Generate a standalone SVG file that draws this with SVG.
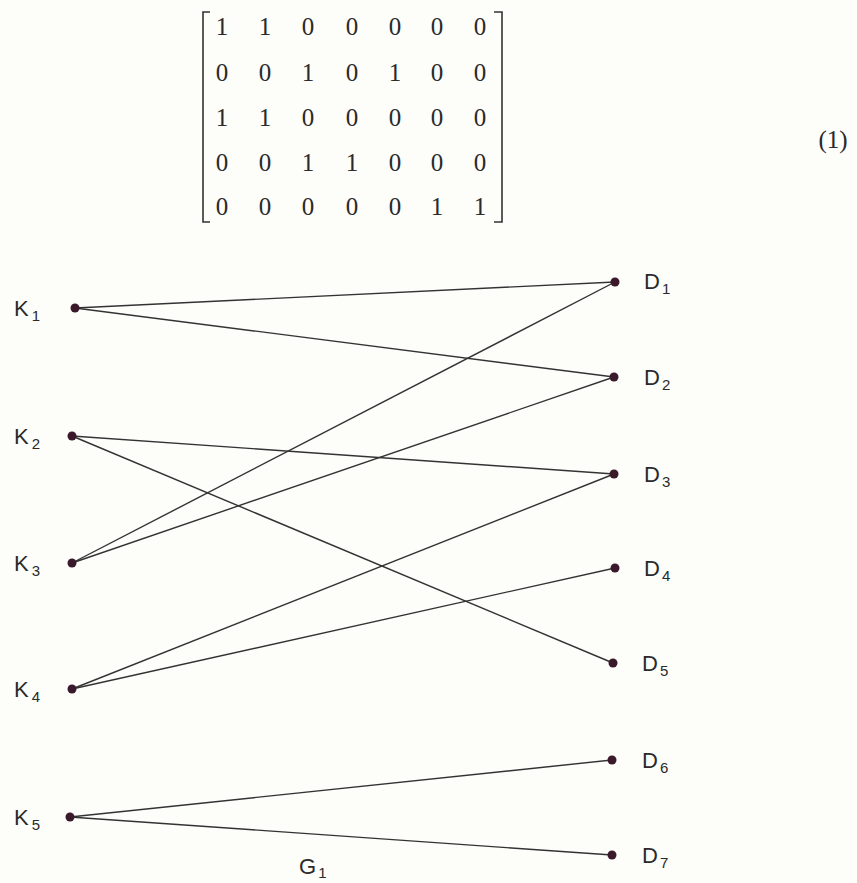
<svg xmlns="http://www.w3.org/2000/svg" width="857" height="883" viewBox="0 0 857 883">
<style>
.m{font-family:"Liberation Serif",serif;font-size:25px;fill:#2a2a2a;text-anchor:middle}
.lb{font-family:"Liberation Sans",Arial,sans-serif;font-size:22px;fill:#2a2a2a}
.sb{font-size:15px}
.e{stroke:#333;stroke-width:1.4;fill:none}
.br{stroke:#333;stroke-width:1.6;fill:none}
.dot{fill:#3a1a2a}
</style>
<rect width="857" height="883" fill="#fdfdfa"/>
<g id="matrix">
<path class="br" d="M210 12 H203 V222 H210"/>
<path class="br" d="M494 12 H502 V222 H494"/>
<g class="m">
<text x="222" y="35">1</text><text x="265" y="35">1</text><text x="308" y="35">0</text><text x="352" y="35">0</text><text x="395" y="35">0</text><text x="437" y="35">0</text><text x="480" y="35">0</text>
<text x="222" y="81">0</text><text x="265" y="81">0</text><text x="308" y="81">1</text><text x="352" y="81">0</text><text x="395" y="81">1</text><text x="437" y="81">0</text><text x="480" y="81">0</text>
<text x="222" y="126">1</text><text x="265" y="126">1</text><text x="308" y="126">0</text><text x="352" y="126">0</text><text x="395" y="126">0</text><text x="437" y="126">0</text><text x="480" y="126">0</text>
<text x="222" y="171">0</text><text x="265" y="171">0</text><text x="308" y="171">1</text><text x="352" y="171">1</text><text x="395" y="171">0</text><text x="437" y="171">0</text><text x="480" y="171">0</text>
<text x="222" y="215">0</text><text x="265" y="215">0</text><text x="308" y="215">0</text><text x="352" y="215">0</text><text x="395" y="215">0</text><text x="437" y="215">1</text><text x="480" y="215">1</text>
</g>
<text class="m" x="833" y="148">(1)</text>
</g>
<g id="edges">
<line class="e" x1="75" y1="308" x2="615" y2="282"/>
<line class="e" x1="75" y1="308" x2="614" y2="377"/>
<line class="e" x1="72" y1="436" x2="614" y2="474"/>
<line class="e" x1="72" y1="436" x2="613" y2="663"/>
<line class="e" x1="72" y1="563" x2="615" y2="282"/>
<line class="e" x1="72" y1="563" x2="614" y2="377"/>
<line class="e" x1="72" y1="689" x2="614" y2="474"/>
<line class="e" x1="72" y1="689" x2="615" y2="568"/>
<line class="e" x1="70" y1="817" x2="612" y2="760"/>
<line class="e" x1="70" y1="817" x2="612" y2="855"/>
</g>
<g id="K1"><circle class="dot" cx="75" cy="308" r="4.5"/><text class="lb" x="14" y="316">K<tspan class="sb" dx="3" dy="5">1</tspan></text></g>
<g id="K2"><circle class="dot" cx="72" cy="436" r="4.5"/><text class="lb" x="14" y="444">K<tspan class="sb" dx="3" dy="5">2</tspan></text></g>
<g id="K3"><circle class="dot" cx="72" cy="563" r="4.5"/><text class="lb" x="14" y="571">K<tspan class="sb" dx="3" dy="5">3</tspan></text></g>
<g id="K4"><circle class="dot" cx="72" cy="689" r="4.5"/><text class="lb" x="14" y="697">K<tspan class="sb" dx="3" dy="5">4</tspan></text></g>
<g id="K5"><circle class="dot" cx="70" cy="817" r="4.5"/><text class="lb" x="14" y="825">K<tspan class="sb" dx="3" dy="5">5</tspan></text></g>
<g id="D1"><circle class="dot" cx="615" cy="282" r="4.5"/><text class="lb" x="644" y="289">D<tspan class="sb" dx="2" dy="5">1</tspan></text></g>
<g id="D2"><circle class="dot" cx="614" cy="377" r="4.5"/><text class="lb" x="644" y="385">D<tspan class="sb" dx="2" dy="5">2</tspan></text></g>
<g id="D3"><circle class="dot" cx="614" cy="474" r="4.5"/><text class="lb" x="644" y="482">D<tspan class="sb" dx="2" dy="5">3</tspan></text></g>
<g id="D4"><circle class="dot" cx="615" cy="568" r="4.5"/><text class="lb" x="644" y="576">D<tspan class="sb" dx="2" dy="5">4</tspan></text></g>
<g id="D5"><circle class="dot" cx="613" cy="663" r="4.5"/><text class="lb" x="642" y="671">D<tspan class="sb" dx="2" dy="5">5</tspan></text></g>
<g id="D6"><circle class="dot" cx="612" cy="760" r="4.5"/><text class="lb" x="642" y="768">D<tspan class="sb" dx="2" dy="5">6</tspan></text></g>
<g id="D7"><circle class="dot" cx="612" cy="855" r="4.5"/><text class="lb" x="642" y="863">D<tspan class="sb" dx="2" dy="5">7</tspan></text></g>
<g id="G1"><text class="lb" x="299" y="874">G<tspan class="sb" dx="2" dy="4">1</tspan></text></g>
</svg>
